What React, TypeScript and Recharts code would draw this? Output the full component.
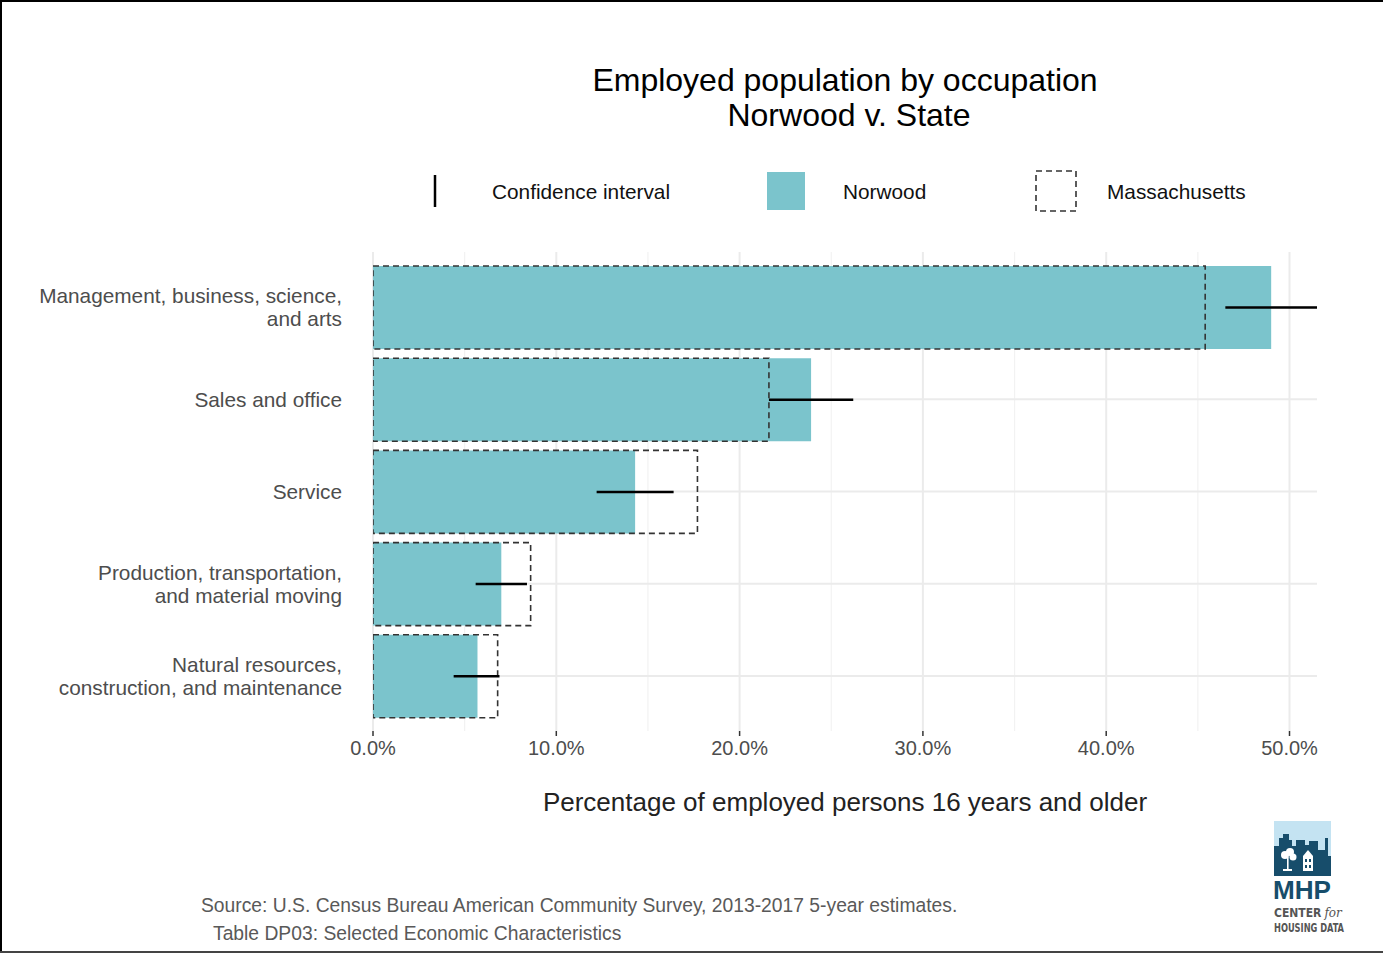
import {
  BarChart,
  Bar,
  XAxis,
  YAxis,
  CartesianGrid,
  ErrorBar,
} from 'recharts'

const categories = [
  'Management, business, science,\nand arts',
  'Sales and office',
  'Service',
  'Production, transportation,\nand material moving',
  'Natural resources,\nconstruction, and maintenance',
]
const norwood = [49.0, 23.9, 14.3, 7.0, 5.7]
const massachusetts = [45.4, 21.6, 17.7, 8.6, 6.8]
const ciLow = [46.5, 21.6, 12.2, 5.6, 4.4]
const ciHigh = [51.5, 26.2, 16.4, 8.4, 6.9]
const majorTicks = [0, 10, 20, 30, 40, 50]
const minorTicks = [5, 15, 25, 35, 45]

const FONT = '"Liberation Sans", Arial, Helvetica, sans-serif'
const TEAL = '#7BC4CC'

const data = categories.map((cat, i) => ({
  cat,
  norwood: norwood[i],
  ma: massachusetts[i],
  ci: [norwood[i] - ciLow[i], ciHigh[i] - norwood[i]],
}))

function CategoryTick(props: any) {
  const { x, y, payload } = props
  const lines = String(payload.value).split('\n')
  const lh = 23
  const start = y - ((lines.length - 1) * lh) / 2
  return (
    <text x={x} y={start} textAnchor="end" fill="#4d4d4d" fontSize={20.8} fontFamily={FONT}>
      {lines.map((l, i) => (
        <tspan key={i} x={x} y={start + i * lh} dy="0.36em">
          {l}
        </tspan>
      ))}
    </text>
  )
}

function Overlay() {
  return (
    <svg
      width={1383}
      height={953}
      style={{ position: 'absolute', left: 0, top: 0, pointerEvents: 'none' }}
      fontFamily={FONT}
    >
      {/* frame */}
      <rect x={0} y={0} width={1383} height={2} fill="#000" />
      <rect x={0} y={0} width={2} height={953} fill="#000" />
      <rect x={0} y={951} width={1383} height={2} fill="#444" />

      {/* title */}
      <text x={845} y={91} textAnchor="middle" fontSize={32} fill="#000">
        Employed population by occupation
      </text>
      <text x={849} y={126} textAnchor="middle" fontSize={32} fill="#000">
        Norwood v. State
      </text>

      {/* legend */}
      <line x1={435} x2={435} y1={175} y2={207} stroke="#000" strokeWidth={2.5} />
      <text x={492} y={199} fontSize={20.8} fill="#111">Confidence interval</text>
      <rect x={767} y={172} width={38} height={38} fill={TEAL} />
      <text x={843} y={199} fontSize={20.8} fill="#111">Norwood</text>
      <rect
        x={1036}
        y={171}
        width={40}
        height={40}
        fill="none"
        stroke="#333"
        strokeWidth={1.6}
        strokeDasharray="6 4"
      />
      <text x={1107} y={199} fontSize={20.8} fill="#111">Massachusetts</text>

      {/* axis title */}
      <text x={845} y={811} textAnchor="middle" fontSize={26} fill="#222">
        Percentage of employed persons 16 years and older
      </text>

      {/* source */}
      <text x={201} y={912} fontSize={19.3} fill="#595959">
        Source: U.S. Census Bureau American Community Survey, 2013-2017 5-year estimates.
      </text>
      <text x={213} y={940} fontSize={19.3} fill="#595959">
        Table DP03: Selected Economic Characteristics
      </text>

      {/* MHP logo */}
      <rect x={1274} y={821} width={57} height={55} fill="#C4E3F2" />
      <path
        d="M1274 876 L1274 846 L1279 846 L1279 838 L1283 838 L1283 834 L1289 834 L1289 840 L1292 840 L1292 846 L1296 846 L1296 840 L1305 840 L1305 845 L1309 845 L1309 841 L1318 841 L1318 850 L1325 850 L1325 838 L1328 838 L1328 876 Z"
        fill="#174D6B"
      />
      <rect x={1274} y={856} width={57} height={20} fill="#174D6B" />
      <circle cx={1285} cy={855} r={4} fill="#fff" />
      <circle cx={1290} cy={852} r={4} fill="#fff" />
      <circle cx={1293} cy={857} r={3.5} fill="#fff" />
      <rect x={1287} y={857} width={1.6} height={12} fill="#fff" />
      <rect x={1283} y={869} width={9} height={2} fill="#fff" />
      <path d="M1303 871 L1303 856 L1308 850 L1313 856 L1313 871 Z" fill="#fff" />
      <rect x={1305} y={859} width={2} height={3} fill="#174D6B" />
      <rect x={1309} y={859} width={2} height={3} fill="#174D6B" />
      <rect x={1305} y={865} width={2} height={3} fill="#174D6B" />
      <rect x={1309} y={865} width={2} height={3} fill="#174D6B" />
      <text
        x={1273}
        y={899}
        fontSize={26}
        fontWeight="bold"
        fill="#174D6B"
        textLength={58}
        lengthAdjust="spacingAndGlyphs"
      >
        MHP
      </text>
      <text
        x={1274}
        y={917}
        fontSize={12}
        fontWeight="bold"
        fill="#555"
        fontFamily='"DejaVu Sans Condensed", "DejaVu Sans", sans-serif'
      >
        CENTER
        <tspan fontStyle="italic" fontWeight="normal" fontFamily='"DejaVu Serif", serif' dx={3}>
          for
        </tspan>
      </text>
      <text
        x={1274}
        y={932}
        fontSize={12}
        fontWeight="bold"
        fill="#555"
        textLength={70}
        lengthAdjust="spacingAndGlyphs"
        fontFamily='"DejaVu Sans Condensed", "DejaVu Sans", sans-serif'
      >
        HOUSING DATA
      </text>
    </svg>
  )
}

export default function App() {
  return (
    <div
      style={{
        position: 'absolute',
        left: 0,
        top: 0,
        width: 1383,
        height: 953,
        background: '#fff',
      }}
    >
      <BarChart
        width={1383}
        height={953}
        data={data}
        layout="vertical"
        margin={{ top: 252, right: 66, left: 33, bottom: 182 }}
        barSize={83}
        barGap={-83}
      >
        <CartesianGrid
          xAxisId="minor"
          horizontal={false}
          stroke="#f2f2f2"
          strokeWidth={1.2}
          syncWithTicks
        />
        <CartesianGrid stroke="#ebebeb" strokeWidth={2} syncWithTicks />
        <XAxis
          type="number"
          domain={[0, 51.5]}
          allowDataOverflow
          ticks={majorTicks}
          tickFormatter={(v: number) => `${v.toFixed(1)}%`}
          tick={{ fontSize: 20, fill: '#4d4d4d', fontFamily: FONT }}
          axisLine={false}
          tickLine={{ stroke: '#333', strokeWidth: 1.5 }}
          tickSize={5}
          tickMargin={5}
          height={40}
          interval={0}
        />
        <XAxis
          xAxisId="minor"
          type="number"
          domain={[0, 51.5]}
          allowDataOverflow
          ticks={minorTicks}
          interval={0}
          hide
        />
        <YAxis
          type="category"
          dataKey="cat"
          width={340}
          axisLine={false}
          tickLine={false}
          tickSize={0}
          tickMargin={31}
          tick={<CategoryTick />}
          padding={{ top: 9, bottom: 9 }}
          interval={0}
        />
        <Bar dataKey="norwood" fill={TEAL} isAnimationActive={false}>
          <ErrorBar
            dataKey="ci"
            direction="x"
            width={0}
            stroke="#000"
            strokeWidth={2.5}
          />
        </Bar>
        <Bar
          dataKey="ma"
          fill="none"
          stroke="#333"
          strokeWidth={1.6}
          strokeDasharray="6 4"
          isAnimationActive={false}
        />
      </BarChart>
      <Overlay />
    </div>
  )
}
